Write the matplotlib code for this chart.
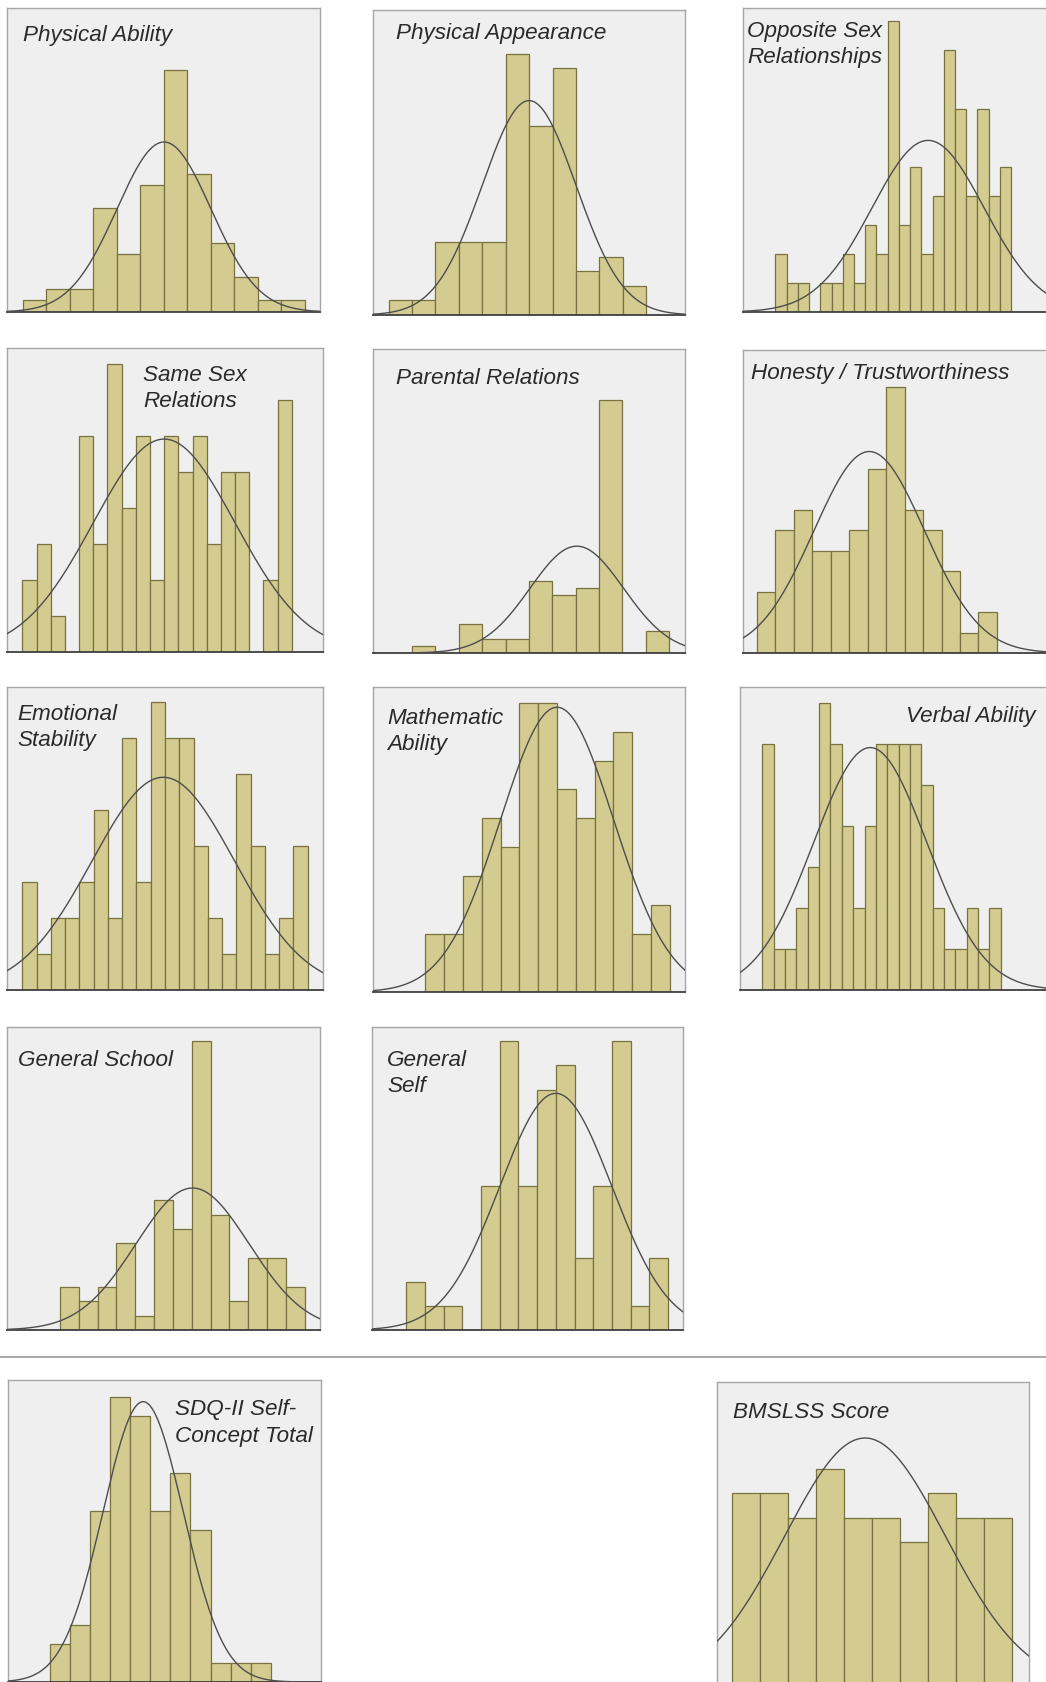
import numpy as np
import matplotlib.pyplot as plt
from matplotlib.lines import Line2D

W, H = 1046, 1682

# scale names
titles = [
    "Physical Ability", "Physical Appearance", "Opposite Sex\nRelationships",
    "Same Sex\nRelations", "Parental Relations", "Honesty / Trustworthiness",
    "Emotional\nStability", "Mathematic\nAbility", "Verbal Ability",
    "General School", "General\nSelf", "SDQ-II Self-\nConcept Total",
    "BMSLSS Score",
]

# bin counts per scale (n = 74)
physical_ability = [1, 2, 2, 9, 5, 11, 21, 12, 6, 3, 1, 1]
physical_appearance = [1, 1, 5, 5, 5, 18, 13, 17, 3, 4, 2]
opposite_sex = [2, 1, 1, 0, 1, 1, 2, 1, 3, 2, 10, 3, 5, 2, 4, 9, 7, 4, 7, 4, 5]
same_sex = [2, 3, 1, 0, 6, 3, 8, 4, 6, 2, 6, 5, 6, 3, 5, 5, 0, 2, 7]
parental = [1, 0, 4, 2, 2, 10, 8, 9, 35, 0, 3]
honesty = [3, 6, 7, 5, 5, 6, 9, 13, 7, 6, 4, 1, 2]
emotional = [3, 1, 2, 2, 3, 5, 2, 7, 3, 8, 7, 7, 4, 2, 1, 6, 4, 1, 2, 4]
mathematic = [2, 2, 4, 6, 5, 10, 10, 7, 6, 8, 9, 2, 3]
verbal = [6, 1, 1, 2, 3, 7, 6, 4, 2, 4, 6, 6, 6, 6, 5, 2, 1, 1, 2, 1, 2]
general_school = [3, 2, 3, 6, 1, 9, 7, 20, 8, 2, 5, 5, 3]
general_self = [2, 1, 1, 0, 6, 12, 6, 10, 11, 3, 6, 12, 1, 3]
sdq_total = [2, 3, 9, 15, 14, 9, 11, 8, 1, 1, 1]
bmslss = [8, 8, 7, 9, 7, 7, 6, 8, 7, 7]

all_counts = [physical_ability, physical_appearance, opposite_sex, same_sex,
              parental, honesty, emotional, mathematic, verbal,
              general_school, general_self, sdq_total, bmslss]

# fitted normal: mean and sd in bin units
means = [6.0, 6.0, 13.6, 10.0, 7.05, 6.08, 9.88, 7.0, 9.5, 7.04, 8.0, 4.64, 4.74]
sds = [2.0, 2.0, 5.0, 5.0, 2.0, 3.0, 5.0, 3.0, 5.0, 3.0, 3.0, 2.0, 2.87]

# panel boxes in pixels (x0, y0, x1, y1), x limits, y max
boxes = [
    (7, 8, 320, 312), (373, 10, 685, 315), (743, 8, 1056, 312),
    (7, 348, 323, 652), (373, 349, 685, 653), (743, 350, 1056, 653),
    (7, 687, 323, 990), (373, 687, 685, 992), (740, 687, 1053, 990),
    (7, 1027, 320, 1330), (372, 1027, 683, 1330),
    (8, 1380, 321, 1682), (717, 1382, 1029, 1687),
]
xlims = [(-0.68, 12.64), (-0.67, 12.66), (-2.89, 25.0), (-1.08, 21.2),
         (-1.67, 11.68), (-0.76, 16.2), (-1.08, 21.08), (-2.78, 13.8),
         (-1.97, 25.6), (-2.8, 13.8), (-1.83, 14.8), (-2.09, 13.5),
         (-0.55, 10.6)]
ymaxs = [26.4, 21.0, 10.46, 8.43, 42.0, 14.8, 8.41, 10.54, 7.38, 21.0,
         12.6, 15.9, 12.6]
# title anchor (x, y center, alignment)
title_pos = [(23, 35, "left"), (396, 33, "left"), (747, 44.5, "left"),
             (143, 388.5, "left"), (396, 379, "left"), (751, 373, "left"),
             (17, 727.5, "left"), (387, 731.5, "left"), (1036, 717, "right"),
             (18, 1060, "left"), (387, 1073.5, "left"), (175, 1423, "left"),
             (733, 1412, "left")]

bar_face = "#d3cb8f"
bar_edge = "#77723f"
panel_bg = "#efefef"

fig = plt.figure(figsize=(W / 100, H / 100), dpi=100)
fig.patch.set_facecolor("white")

for i, counts in enumerate(all_counts):
    x0, y0, x1, y1 = boxes[i]
    ax = fig.add_axes([x0 / W, 1 - y1 / H, (x1 - x0) / W, (y1 - y0) / H])
    ax.set_facecolor(panel_bg)
    idx = np.arange(len(counts))
    ax.bar(idx, counts, width=1.0, align="edge", color=bar_face,
           edgecolor=bar_edge, linewidth=0.9, zorder=2)
    # normal curve scaled to n * bin width
    n = sum(counts)
    xs = np.linspace(xlims[i][0], xlims[i][1], 400)
    ys = n / (sds[i] * np.sqrt(2 * np.pi)) * np.exp(-0.5 * ((xs - means[i]) / sds[i]) ** 2)
    ax.plot(xs, ys, color="#4d4d4d", linewidth=1.0, zorder=3)
    ax.set_xlim(*xlims[i])
    ax.set_ylim(0, ymaxs[i])
    ax.set_xticks([])
    ax.set_yticks([])
    for side in ("top", "left", "right"):
        ax.spines[side].set_color("#a6a6a6")
        ax.spines[side].set_linewidth(1.0)
    ax.spines["bottom"].set_color("#3f3f3f")
    ax.spines["bottom"].set_linewidth(1.3)

    tx, ty, ha = title_pos[i]
    fig.text(tx / W, 1 - ty / H, titles[i], ha=ha, va="center",
             fontsize=16.2, fontstyle="italic", family="Liberation Sans",
             color="#2a2a2a", linespacing=1.35)

# separator above the total scores
fig.add_artist(Line2D([0, 1], [1 - 1357 / H, 1 - 1357 / H],
                      color="#9a9a9a", linewidth=1.2))

plt.savefig("out.png", dpi=100)
